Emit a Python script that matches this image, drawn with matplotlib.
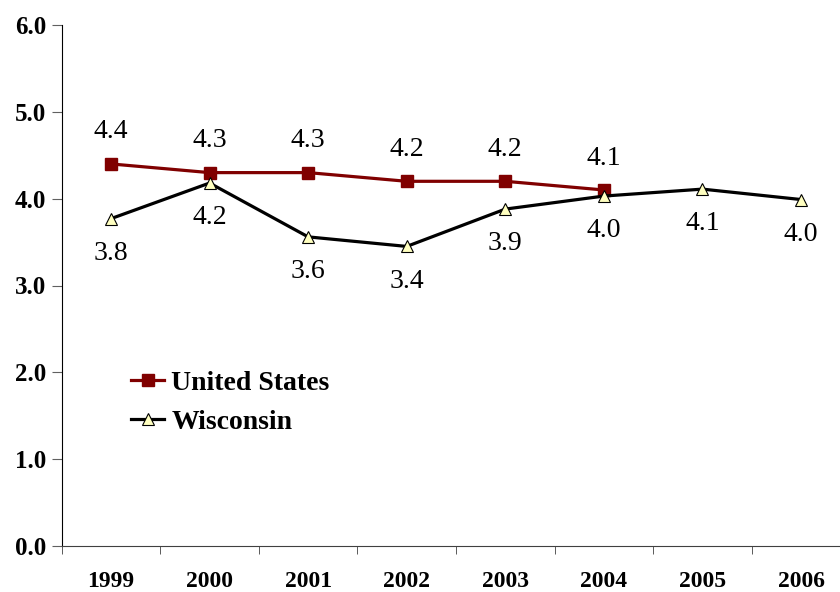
import matplotlib
matplotlib.use("Agg")
import matplotlib.pyplot as plt

years = ["1999", "2000", "2001", "2002", "2003", "2004", "2005", "2006"]
us_vals = [4.4, 4.3, 4.3, 4.2, 4.2, 4.1]
us_labels = ["4.4", "4.3", "4.3", "4.2", "4.2", "4.1"]
wi_vals = [3.77, 4.18, 3.56, 3.45, 3.88, 4.03, 4.11, 3.99]
wi_labels = ["3.8", "4.2", "3.6", "3.4", "3.9", "4.0", "4.1", "4.0"]
y_ticks = [0, 1, 2, 3, 4, 5, 6]

plt.rcParams['font.family'] = ['Liberation Serif', 'DejaVu Serif']

fig = plt.figure(figsize=(8.4, 5.92), dpi=100)
ax = fig.add_axes([61.7 / 840, 46 / 592, 788.6 / 840, 521 / 592])

x_wi = list(range(len(wi_vals)))
x_us = list(range(len(us_vals)))

ax.plot(x_us, us_vals, color="#800000", lw=2.3, marker="s", ms=8.5,
        mfc="#800000", mec="#800000", label="United States", zorder=3)
ax.plot(x_wi, wi_vals, color="black", lw=2.3, marker="^", ms=9,
        mfc="#FFFFC0", mec="black", mew=0.8, label="Wisconsin", zorder=4)

# etiquetas de datos
for x, v, t in zip(x_us, us_vals, us_labels):
    ax.annotate(t, (x, v), xytext=(0, 23), textcoords="offset points",
                ha="center", va="center", fontsize=20)
for x, v, t in zip(x_wi, wi_vals, wi_labels):
    ax.annotate(t, (x, v), xytext=(0, -25), textcoords="offset points",
                ha="center", va="center", fontsize=20)

ax.set_xlim(-0.5, 7.5)
ax.set_ylim(0, 6)
ax.set_yticks(y_ticks)
ax.set_yticklabels([f"{t:.1f}" for t in y_ticks], fontsize=18, fontweight="bold")
ax.set_xticks(x_wi)
ax.set_xticklabels(years, fontsize=17, fontweight="bold")
ax.set_xticks([i - 0.5 for i in range(9)], minor=True)
ax.tick_params(axis="x", which="major", length=0, pad=18)
ax.tick_params(axis="x", which="minor", length=6, color="#404040", direction="out")
ax.tick_params(axis="y", length=7, color="#606060", direction="out", pad=4)

for s in ["top", "right"]:
    ax.spines[s].set_visible(False)
ax.spines["left"].set_color("black")
ax.spines["bottom"].set_color("#404040")

ax.legend(loc="upper left", bbox_to_anchor=(0.056, 0.385), frameon=False,
          prop={"size": 20, "weight": "bold"}, handlelength=1.2,
          handletextpad=0.25, labelspacing=0.5)

fig.savefig("out.png", dpi=100)
